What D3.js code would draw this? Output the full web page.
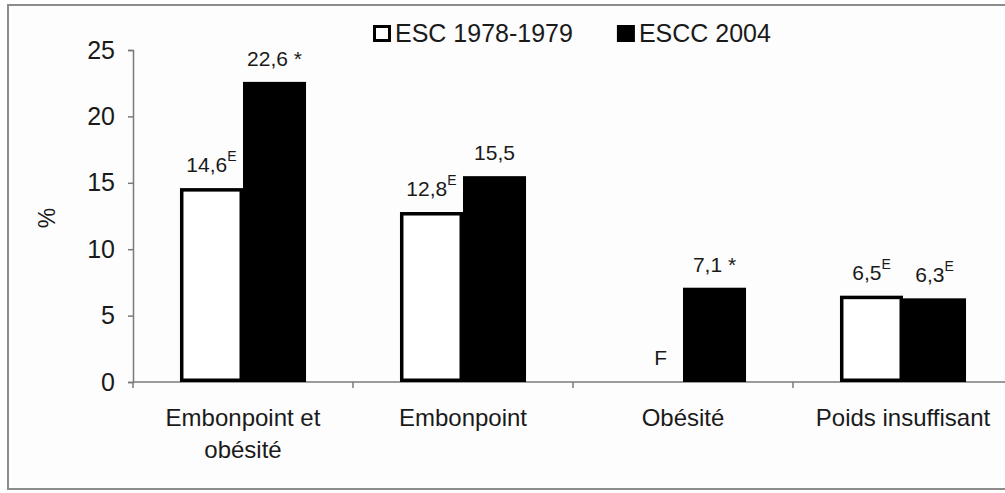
<!DOCTYPE html>
<html>
<head>
<meta charset="utf-8">
<script src="https://cdn.jsdelivr.net/npm/d3@7"></script>
<style>
  body { margin: 0; background: #fff; }
  text { font-family: "Liberation Sans", Arial, sans-serif; fill: #1a1a1a; }
</style>
</head>
<body>
<div id="canvas"></div>
<script>
// data
var categories = ["Embonpoint et obésité", "Embonpoint", "Obésité", "Poids insuffisant"];
var seriesNames = ["ESC 1978-1979", "ESCC 2004"];
var esc1979 = [14.6, 12.8, null, 6.5];
var escc2004 = [22.6, 15.5, 7.1, 6.3];
var esc1979Flags = ["E", "E", "F", "E"];   // F = too unreliable to publish
var escc2004Flags = ["*", "", "*", "E"];
var yTicks = [0, 5, 10, 15, 20, 25];

var width = 1005, height = 493;
var margin = {left: 133, top: 50, right: -8, bottom: 111};

var svg = d3.select("#canvas").append("svg")
  .attr("width", width)
  .attr("height", height);

// frame
svg.append("rect")
  .attr("x", 8).attr("y", 5)
  .attr("width", 1020).attr("height", 484)
  .attr("fill", "#fdfdfd")
  .attr("stroke", "#8c8c8c")
  .attr("stroke-width", 2);

var x0 = d3.scaleBand()
  .domain(categories)
  .range([margin.left, width - margin.right])
  .paddingInner(0.427)
  .paddingOuter(0.2135);
var x1 = d3.scaleBand()
  .domain(seriesNames)
  .range([0, x0.bandwidth()]);
var y = d3.scaleLinear()
  .domain([0, 25])
  .range([height - margin.bottom, margin.top]);

var fmt = (v) => d3.format(".1f")(v).replace(".", ",");

// y axis
var yAxis = svg.append("g")
  .attr("transform", "translate(" + margin.left + ",0)")
  .call(d3.axisLeft(y).tickValues(yTicks).tickSize(5).tickPadding(13));
yAxis.select(".domain").attr("stroke", "#7a7a7a").attr("stroke-width", 1.5);
yAxis.selectAll(".tick line").attr("stroke", "#7a7a7a").attr("stroke-width", 1.5);
yAxis.selectAll("text").attr("font-size", "25px").attr("fill", "#1a1a1a")
  .attr("font-family", "Liberation Sans, Arial, sans-serif");

svg.append("text")
  .attr("transform", "translate(55," + 218 + ") rotate(-90)")
  .attr("text-anchor", "middle")
  .attr("font-size", "23px")
  .text("%");

// x axis (ticks between categories)
var bounds = categories.map((c) => x0(c) - x0.step() * x0.paddingInner() / 2);
bounds.push(bounds[bounds.length - 1] + x0.step());
var xg = svg.append("g");
xg.append("line")
  .attr("x1", margin.left).attr("x2", width + 20)
  .attr("y1", y(0)).attr("y2", y(0))
  .attr("stroke", "#7a7a7a").attr("stroke-width", 1.5);
xg.selectAll(".xtick").data(bounds).enter().append("line")
  .attr("x1", (d) => d).attr("x2", (d) => d)
  .attr("y1", y(0)).attr("y2", y(0) + 6)
  .attr("stroke", "#7a7a7a").attr("stroke-width", 1.5);

// category labels with wrapping
var catText = svg.selectAll(".cat").data(categories).enter().append("text")
  .attr("class", "cat")
  .attr("x", (d) => x0(d) + x0.bandwidth() / 2)
  .attr("y", y(0) + 44)
  .attr("text-anchor", "middle")
  .attr("font-size", "24px");
catText.each(function(d) {
  var t = d3.select(this), words = d.split(" "), line = [], lineNo = 0;
  var cx = +t.attr("x");
  var tspan = t.append("tspan").attr("x", cx).attr("dy", 0);
  words.forEach((w) => {
    line.push(w);
    tspan.text(line.join(" "));
    if (tspan.node().getComputedTextLength() > 210 && line.length > 1) {
      line.pop();
      tspan.text(line.join(" "));
      line = [w];
      lineNo++;
      tspan = t.append("tspan").attr("x", cx).attr("dy", 32).text(w);
    }
  });
});

// bars
var rows = categories.map((c, i) => ({
  cat: c,
  vals: [
    {s: seriesNames[0], v: esc1979[i], flag: esc1979Flags[i]},
    {s: seriesNames[1], v: escc2004[i], flag: escc2004Flags[i]}
  ]
}));

var groups = svg.selectAll(".grp").data(rows).enter().append("g")
  .attr("class", "grp")
  .attr("transform", (d) => "translate(" + x0(d.cat) + ",0)");

var sw = 3.5;
groups.selectAll("rect").data((d) => d.vals.filter((v) => v.v != null)).enter().append("rect")
  .attr("x", (d) => x1(d.s) + (d.s === seriesNames[0] ? sw / 2 : 0))
  .attr("y", (d) => y(d.v) + (d.s === seriesNames[0] ? sw / 2 : 0))
  .attr("width", (d) => x1.bandwidth() - (d.s === seriesNames[0] ? sw : 0))
  .attr("height", (d) => y(0) - y(d.v) - (d.s === seriesNames[0] ? sw : 0))
  .attr("fill", (d) => d.s === seriesNames[0] ? "#fff" : "#000")
  .attr("stroke", (d) => d.s === seriesNames[0] ? "#000" : "none")
  .attr("stroke-width", sw);

// value labels
groups.selectAll(".val").data((d) => d.vals).enter().append("text")
  .attr("class", "val")
  .attr("font-size", "21px")
  .attr("text-anchor", (d) => d.v == null ? "end" : "middle")
  .attr("x", (d) => d.v == null ? x1(d.s) + x1.bandwidth() - 16 : x1(d.s) + x1.bandwidth() / 2)
  .attr("y", (d) => d.v == null ? y(0) - 17 : y(d.v) - 16)
  .each(function(d) {
    var t = d3.select(this);
    if (d.v == null) { t.text(d.flag); return; }
    t.append("tspan").text(fmt(d.v));
    if (d.flag === "*") t.append("tspan").text(" *");
    if (d.flag === "E") t.append("tspan").attr("font-size", "14px").attr("dy", -11).text("E");
  });

// legend
var lg = svg.append("g").attr("transform", "translate(373,25)");
var lx = 0;
seriesNames.forEach((s, i) => {
  var item = lg.append("g").attr("transform", "translate(" + lx + ",0)");
  item.append("rect")
    .attr("x", 1.5).attr("y", 1.5)
    .attr("width", 15).attr("height", 14)
    .attr("fill", i === 0 ? "#fff" : "#000")
    .attr("stroke", "#000").attr("stroke-width", 3);
  var t = item.append("text")
    .attr("x", 22).attr("y", 17)
    .attr("font-size", "25px")
    .text(s);
  lx += 22 + t.node().getComputedTextLength() + 44;
});
</script>
</body>
</html>
